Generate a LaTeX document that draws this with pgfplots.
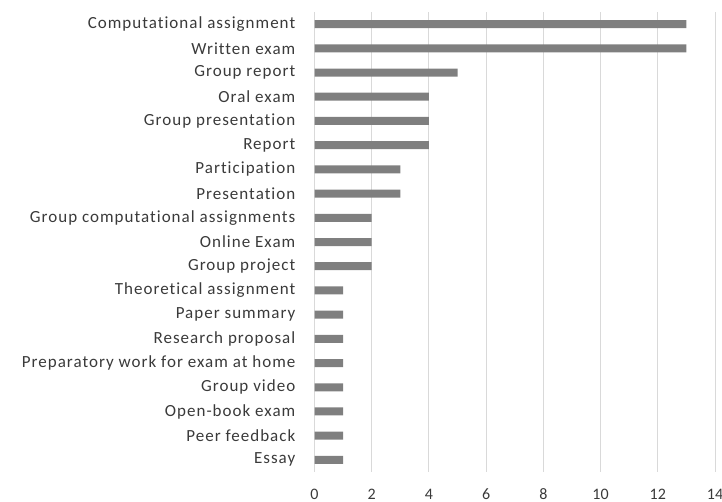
\documentclass[border=0pt]{standalone}
\usepackage{fontspec}
\setmainfont{Carlito}[LetterSpace=6, RawFeature=-liga]
\newfontfamily\numfont{Carlito}
\usepackage{pgfplots}
\pgfplotsset{compat=1.18}
\definecolor{barGray}{HTML}{7F7F7F}
\definecolor{gridGray}{HTML}{D9D9D9}
\definecolor{txtGray}{HTML}{3A3A3A}
\begin{document}
\begin{tikzpicture}
\begin{axis}[
    at={(314.5bp,30bp)}, anchor=south west,
    scale only axis,
    width=400.5bp, height=460bp,
    xmin=0, xmax=14, ymin=-0.5, ymax=18.5,
    y dir=reverse,
    xtick={0,2,...,14},
    ytick={0,...,18},
    yticklabels={Computational assignment, Written exam, Group report, Oral exam,
      Group presentation, Report, Participation, Presentation,
      Group computational assignments, Online Exam, Group project,
      Theoretical assignment, Paper summary, Research proposal,
      Preparatory work for exam at home, Group video, Open-book exam,
      Peer feedback, Essay},
    xmajorgrids,
    grid style={gridGray, line width=0.9bp},
    axis line style={draw=none},
    major tick length=0pt,
    tick label style={text=txtGray, inner sep=0pt},
    yticklabel style={font=\fontsize{17bp}{19bp}\selectfont},
    yticklabel shift=19bp,
    xticklabel style={anchor=base, font=\numfont\fontsize{16bp}{18bp}\selectfont},
    xticklabel shift=27bp,
    /pgf/number format/assume math mode=true,
    xbar, bar width=8bp,
]
\addplot[fill=barGray, draw=none] coordinates {
    (13,0) (13,1) (5,2) (4,3) (4,4) (4,5) (3,6) (3,7) (2,8) (2,9) (2,10)
    (1,11) (1,12) (1,13) (1,14) (1,15) (1,16) (1,17) (1,18)
};
\end{axis}
\pgfresetboundingbox
\useasboundingbox (0,0) rectangle (722bp,502bp);
\end{tikzpicture}
\end{document}
